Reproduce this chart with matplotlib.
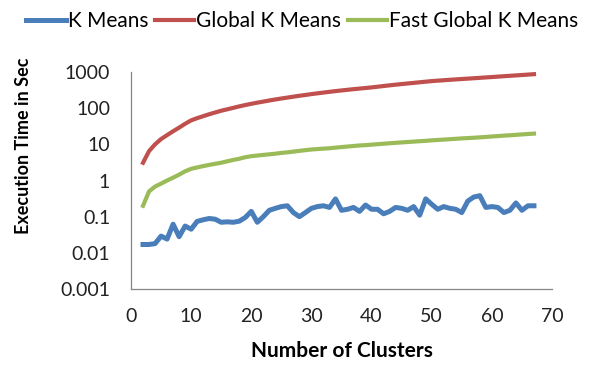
import matplotlib
matplotlib.use("Agg")
import matplotlib.pyplot as plt
from matplotlib.ticker import FixedLocator, FixedFormatter, NullLocator

clusters = list(range(2, 68))

k_means = [0.017, 0.017, 0.018, 0.029, 0.024, 0.062, 0.028, 0.055, 0.045, 0.074,
           0.082, 0.089, 0.085, 0.070, 0.072, 0.070, 0.075, 0.095, 0.140, 0.070,
           0.100, 0.150, 0.170, 0.190, 0.200, 0.130, 0.100, 0.130, 0.170, 0.190,
           0.200, 0.180, 0.310, 0.150, 0.160, 0.180, 0.140, 0.210, 0.160, 0.160,
           0.120, 0.140, 0.180, 0.170, 0.150, 0.190, 0.110, 0.310, 0.220, 0.160,
           0.190, 0.170, 0.160, 0.130, 0.270, 0.350, 0.380, 0.180, 0.190, 0.180,
           0.130, 0.150, 0.240, 0.150, 0.200, 0.200]

global_k_means = [3.1, 6.5, 10, 14, 18, 23, 29, 37, 46, 53,
                  60, 68, 76, 85, 93, 102, 112, 122, 132, 142,
                  152, 163, 174, 185, 196, 208, 220, 232, 245, 257,
                  270, 283, 296, 309, 322, 335, 348, 361, 375, 392,
                  410, 428, 446, 464, 482, 500, 520, 540, 560, 576,
                  592, 608, 624, 640, 656, 672, 690, 708, 725, 745,
                  765, 785, 805, 825, 848, 870]

fast_global_k_means = [0.2, 0.5, 0.68, 0.82, 1.0, 1.2, 1.45, 1.8, 2.1, 2.3,
                       2.5, 2.7, 2.9, 3.1, 3.4, 3.7, 4.0, 4.4, 4.7, 4.9,
                       5.1, 5.3, 5.5, 5.8, 6.0, 6.3, 6.6, 6.9, 7.2, 7.4,
                       7.6, 7.8, 8.1, 8.4, 8.7, 9.0, 9.3, 9.5, 9.8, 10.1,
                       10.4, 10.7, 11.0, 11.3, 11.6, 11.9, 12.2, 12.5, 12.9, 13.2,
                       13.5, 13.9, 14.2, 14.6, 14.9, 15.2, 15.6, 16.0, 16.5, 16.9,
                       17.4, 17.8, 18.3, 18.8, 19.3, 19.8]

y_ticks = [0.001, 0.01, 0.1, 1, 10, 100, 1000]
y_tick_labels = ["0.001", "0.01", "0.1", "1", "10", "100", "1000"]
x_ticks = [0, 10, 20, 30, 40, 50, 60, 70]

plt.rcParams['font.family'] = ['Lato', 'DejaVu Sans']

fig = plt.figure(figsize=(5.99, 3.65), dpi=100)
ax = fig.add_axes([131 / 599, 1 - 289 / 365, (552 - 131) / 599, (289 - 72) / 365])

ax.plot(clusters, k_means, color='#4A7EBB', lw=3.6, label='K Means')
ax.plot(clusters, global_k_means, color='#C0504D', lw=3.0, label='Global K Means')
ax.plot(clusters, fast_global_k_means, color='#9BBB59', lw=3.0, label='Fast Global K Means')

ax.set_yscale('log')
ax.set_ylim(0.001, 1000)
ax.set_xlim(0, 70)
ax.yaxis.set_major_locator(FixedLocator(y_ticks))
ax.yaxis.set_major_formatter(FixedFormatter(y_tick_labels))
ax.yaxis.set_minor_locator(NullLocator())
ax.set_xticks(x_ticks)

for s in ['top', 'right']:
    ax.spines[s].set_visible(False)
for s in ['left', 'bottom']:
    ax.spines[s].set_color('#868686')
    ax.spines[s].set_linewidth(0.9)

ax.tick_params(axis='y', length=0, pad=15, labelsize=14, colors='#222222')
ax.tick_params(axis='x', length=0, pad=14, labelsize=14, colors='#222222')

ax.set_xlabel('Number of Clusters', fontsize=15, fontweight='bold', labelpad=11)
ax.set_ylabel('Execution Time in Sec', fontsize=13, fontweight='bold')
ax.yaxis.set_label_coords(-0.235, 0.66)

fig.legend(loc='upper center', bbox_to_anchor=(0.505, 1.02), ncol=3, frameon=False,
           fontsize=15, handlelength=1.9, handletextpad=0.1, columnspacing=0.3)

fig.savefig('out.png', dpi=100)
